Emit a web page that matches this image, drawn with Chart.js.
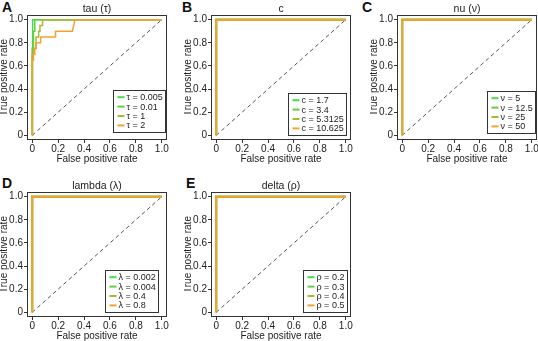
<!DOCTYPE html>
<html><head><meta charset="utf-8">
<script src="https://cdn.jsdelivr.net/npm/chart.js@4"></script>
<style>
html,body{margin:0;padding:0;background:#fff;overflow:hidden;}
#wrap{position:relative;width:538px;height:341px;overflow:hidden;background:#fff;}
#wrap canvas{position:absolute;}
.lab{position:absolute;font:bold 14px "Liberation Sans",Arial,sans-serif;color:#111;line-height:14px;}
</style></head><body><div id="wrap">
<div class="lab" style="left:2px;top:0px">A</div>
<div class="lab" style="left:182px;top:0px">B</div>
<div class="lab" style="left:362px;top:0px">C</div>
<div class="lab" style="left:2px;top:176px">D</div>
<div class="lab" style="left:186px;top:176px">E</div>
</div>
<script>
// ---- tick labels ----
const tickValues = [0, 0.2, 0.4, 0.6, 0.8, 1.0];
const tickLabels = ['0', '0.2', '0.4', '0.6', '0.8', '1.0'];
const xAxisTitle = 'False positive rate';
const yAxisTitle = 'True positive rate';

// ---- chance diagonal ----
const diagFpr = [0, 1];
const diagTpr = [0, 1];

// ---- panel A: tau ----
const tauTitle = 'tau (τ)';
const tauLabels = ['τ = 0.005', 'τ = 0.01', 'τ = 1', 'τ = 2'];
const tau0005Fpr = [0, 0, 0.005, 0.005, 1];
const tau0005Tpr = [0, 0.95, 0.95, 1, 1];
const tau001Fpr = [0, 0, 0.01, 0.01, 0.02, 0.02, 1];
const tau001Tpr = [0, 0.75, 0.75, 0.9, 0.9, 1, 1];
const tau1Fpr = [0, 0, 0.01, 0.01, 0.03, 0.03, 0.05, 0.05, 0.06, 0.06, 0.08, 0.08, 1];
const tau1Tpr = [0, 0.7, 0.7, 0.75, 0.75, 0.85, 0.85, 0.9, 0.9, 0.95, 0.95, 1, 1];
const tau2Fpr = [0, 0, 0.01, 0.01, 0.02, 0.02, 0.03, 0.03, 0.065, 0.065, 0.18, 0.18, 0.31, 0.33, 1];
const tau2Tpr = [0, 0.65, 0.65, 0.7, 0.7, 0.75, 0.75, 0.8, 0.8, 0.85, 0.85, 0.9, 0.9, 1, 1];

// ---- panel B: c ----
const cTitle = 'c';
const cLabels = ['c = 1.7', 'c = 3.4', 'c = 5.3125', 'c = 10.625'];
const cFpr = [0, 0, 1];
const cTpr = [0, 1, 1];

// ---- panel C: nu ----
const nuTitle = 'nu (ν)';
const nuLabels = ['ν = 5', 'ν = 12.5', 'ν = 25', 'ν = 50'];
const nuFpr = [0, 0, 1];
const nuTpr = [0, 1, 1];

// ---- panel D: lambda ----
const lambdaTitle = 'lambda (λ)';
const lambdaLabels = ['λ = 0.002', 'λ = 0.004', 'λ = 0.4', 'λ = 0.8'];
const lambdaFpr = [0, 0, 1];
const lambdaTpr = [0, 1, 1];

// ---- panel E: delta ----
const deltaTitle = 'delta (ρ)';
const deltaLabels = ['ρ = 0.2', 'ρ = 0.3', 'ρ = 0.4', 'ρ = 0.5'];
const deltaFpr = [0, 0, 1];
const deltaTpr = [0, 1, 1];

// ---- styles ----
const seriesColors = ['#44dd44', '#66cc44', '#aab833', '#f5a033'];
const FONT = '"Liberation Sans", Arial, sans-serif';

const panels = [
  {title: tauTitle, labels: tauLabels, series: [[tau0005Fpr, tau0005Tpr], [tau001Fpr, tau001Tpr], [tau1Fpr, tau1Tpr], [tau2Fpr, tau2Tpr]], left: 0, top: 0, lw: 1.5, insetR: 2, insetB: 8},
  {title: cTitle, labels: cLabels, series: [[cFpr, cTpr], [cFpr, cTpr], [cFpr, cTpr], [cFpr, cTpr]], left: 184, top: 0, lw: 2, insetR: 5, insetB: 5},
  {title: nuTitle, labels: nuLabels, series: [[nuFpr, nuTpr], [nuFpr, nuTpr], [nuFpr, nuTpr], [nuFpr, nuTpr]], left: 370, top: 0, lw: 2, insetR: 2, insetB: 7},
  {title: lambdaTitle, labels: lambdaLabels, series: [[lambdaFpr, lambdaTpr], [lambdaFpr, lambdaTpr], [lambdaFpr, lambdaTpr], [lambdaFpr, lambdaTpr]], left: 0, top: 177, lw: 2, insetR: 9, insetB: 5},
  {title: deltaTitle, labels: deltaLabels, series: [[deltaFpr, deltaTpr], [deltaFpr, deltaTpr], [deltaFpr, deltaTpr], [deltaFpr, deltaTpr]], left: 184, top: 177, lw: 2, insetR: 4, insetB: 5}
];

const framePlugin = {
  id: 'frame',
  afterDraw(chart, args, o) {
    const ctx = chart.ctx, a = chart.chartArea;
    ctx.save();
    // box
    ctx.strokeStyle = '#333'; ctx.lineWidth = 1;
    ctx.strokeRect(Math.round(a.left) + 0.5, Math.round(a.top) + 0.5, Math.round(a.right - a.left) - 1, Math.round(a.bottom - a.top) - 1);
    // title
    ctx.fillStyle = '#222';
    ctx.font = '10.5px ' + FONT;
    ctx.textAlign = 'center'; ctx.textBaseline = 'middle';
    ctx.fillText(o.title, (a.left + a.right) / 2, a.top - 6);
    // legend
    ctx.font = '9px ' + FONT;
    let tw = 0;
    o.labels.forEach(t => { tw = Math.max(tw, ctx.measureText(t).width); });
    const rowH = 9.4, padL = 4, lineL = 7, gap = 2, padR = 3, padV = 2;
    const w = Math.round(padL + lineL + gap + tw + padR);
    const h = Math.round(o.labels.length * rowH + padV * 2);
    const x0 = Math.round(a.right - o.insetR - w) + 0.5;
    const y0 = Math.round(a.bottom - o.insetB - h) + 0.5;
    ctx.fillStyle = '#fff';
    ctx.fillRect(x0, y0, w, h);
    ctx.strokeStyle = '#333'; ctx.lineWidth = 1;
    ctx.strokeRect(x0, y0, w, h);
    ctx.textAlign = 'left'; ctx.textBaseline = 'middle';
    o.labels.forEach((t, i) => {
      const cy = y0 + padV + rowH * (i + 0.5);
      ctx.strokeStyle = o.colors[i]; ctx.lineWidth = 2;
      ctx.beginPath(); ctx.moveTo(x0 + padL, cy); ctx.lineTo(x0 + padL + lineL, cy); ctx.stroke();
      ctx.fillStyle = '#222';
      ctx.fillText(t, x0 + padL + lineL + gap, cy + 0.5);
    });
    ctx.restore();
  }
};

function axis(titleText, isX) {
  return {
    type: 'linear', min: -0.04, max: 1.04,
    afterBuildTicks: s => { s.ticks = tickValues.map(v => ({value: v})); },
    ticks: {
      autoSkip: false, maxRotation: 0, color: '#222',
      font: {family: FONT, size: 10},
      padding: isX ? 0 : 1,
      callback: (v, i) => tickLabels[i]
    },
    grid: {display: true, drawOnChartArea: false, drawTicks: true, tickLength: 3, color: '#333', tickColor: '#333'},
    border: {display: false},
    title: {
      display: true, text: titleText, color: '#222',
      font: {family: FONT, size: 10, lineHeight: 1},
      padding: isX ? {top: 0, bottom: 0.5} : {top: -0.5, bottom: 0}
    },
    afterFit: s => { if (isX) s.height = 25; else s.width = 27; }
  };
}

const wrap = document.getElementById('wrap');
panels.forEach(p => {
  const cv = document.createElement('canvas');
  cv.width = 175; cv.height = 165;
  cv.style.left = p.left + 'px'; cv.style.top = p.top + 'px';
  cv.style.width = '175px'; cv.style.height = '165px';
  wrap.appendChild(cv);
  const datasets = p.series.map((s, i) => ({
    label: p.labels[i],
    data: s[0].map((x, j) => ({x: x, y: s[1][j]})),
    borderColor: seriesColors[i], backgroundColor: seriesColors[i],
    borderWidth: p.lw, showLine: true, pointRadius: 0, tension: 0, fill: false,
    order: 4 - i
  }));
  datasets.push({
    label: 'chance',
    data: diagFpr.map((x, j) => ({x: x, y: diagTpr[j]})),
    borderColor: '#555', borderWidth: 1, borderDash: [4, 3],
    showLine: true, pointRadius: 0, tension: 0, fill: false, order: 10
  });
  new Chart(cv, {
    type: 'scatter',
    data: {datasets},
    options: {
      responsive: false, animation: false, devicePixelRatio: 1, events: [],
      layout: {padding: {top: 15, right: 8, left: 0, bottom: 0}},
      scales: {x: axis(xAxisTitle, true), y: axis(yAxisTitle, false)},
      plugins: {
        legend: {display: false}, tooltip: {enabled: false},
        frame: {title: p.title, labels: p.labels, colors: seriesColors, insetR: p.insetR, insetB: p.insetB}
      }
    },
    plugins: [framePlugin]
  });
});
</script>
</body></html>
